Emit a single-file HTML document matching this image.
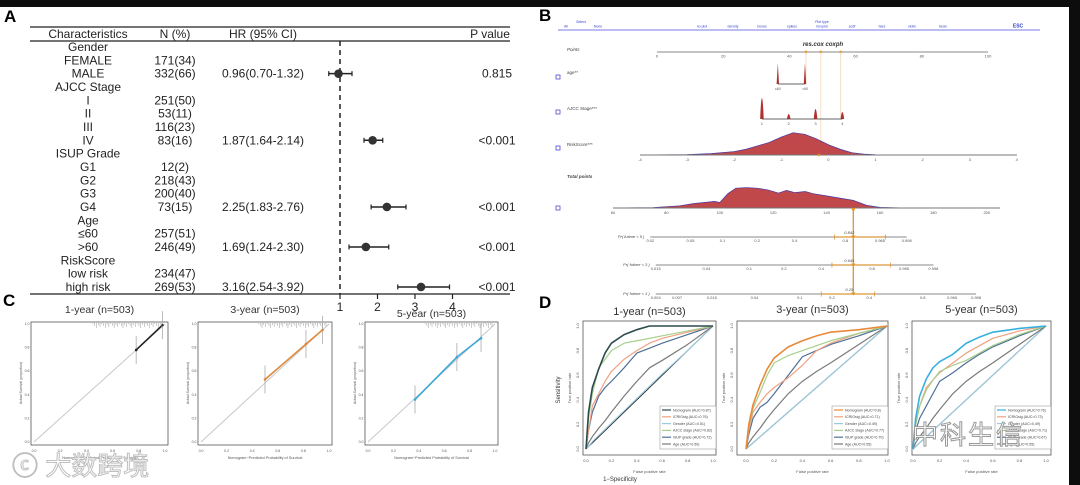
<!DOCTYPE html>
<html><head><meta charset="utf-8">
<style>
html,body{margin:0;padding:0;background:#0d0d0d;}
svg{display:block;font-family:"Liberation Sans","Noto Sans CJK SC",sans-serif;}
</style></head>
<body>
<svg id="fig" width="1080" height="485" viewBox="0 0 1080 485" xmlns="http://www.w3.org/2000/svg">
<rect x="0" y="0" width="1080" height="485" fill="#0d0d0d"/>
<rect x="0" y="7" width="1069" height="478" fill="#ffffff"/>
<text x="4" y="22" font-size="17" font-weight="bold">A</text>
<text x="539" y="21" font-size="17" font-weight="bold">B</text>
<text x="3" y="306" font-size="17" font-weight="bold">C</text>
<text x="539" y="308" font-size="17" font-weight="bold">D</text>
</svg>
<script>
// ---------- Forest plot data ----------
const forestLabels = ["Gender","FEMALE","MALE","AJCC Stage","I","II","III","IV","ISUP Grade","G1","G2","G3","G4","Age","≤60",">60","RiskScore","low risk","high risk"];
const forestN = ["","171(34)","332(66)","","251(50)","53(11)","116(23)","83(16)","","12(2)","218(43)","200(40)","73(15)","","257(51)","246(49)","","234(47)","269(53)"];
const forestHR = [null,null,0.96,null,null,null,null,1.87,null,null,null,null,2.25,null,null,1.69,null,null,3.16];
const forestLo = [null,null,0.70,null,null,null,null,1.64,null,null,null,null,1.83,null,null,1.24,null,null,2.54];
const forestHi = [null,null,1.32,null,null,null,null,2.14,null,null,null,null,2.76,null,null,2.30,null,null,3.92];
const forestP = ["","","0.815","","","","","<0.001","","","","","<0.001","","","<0.001","","","<0.001"];
const forestTicks = [1,2,3,4];

// ---------- Nomogram data ----------
const pointsTicks = [0,20,40,60,80,100];
const riskTicks = [-4,-3,-2,-1,0,1,2,3,4];
const riskDensX = [-4,-3,-2.5,-2,-1.75,-1.5,-1.25,-1,-0.75,-0.5,-0.25,0,0.25,0.5,0.75,1,2,3,4];
const riskDensH = [0,0.02,0.06,0.15,0.25,0.4,0.55,0.78,0.97,0.9,0.7,0.45,0.25,0.1,0.04,0.01,0,0,0];
const totalTicks = [60,80,100,120,140,160,180,200];
const totalDensX = [60,75,85,90,95,98,100,103,106,110,114,118,122,125,128,132,135,140,145,150,155,160,170,200];
const totalDensH = [0,0.02,0.1,0.2,0.26,0.3,0.25,0.65,0.9,0.93,0.9,0.82,0.68,0.8,0.7,0.75,0.65,0.55,0.45,0.35,0.12,0.03,0,0];
const ageLevels = ["≤60",">60"];
const agePoints = [36.5,44.7];
const ajccLevels = ["1","2","3","4"];
const ajccPoints = [31.7,39.8,47.9,56];
const pr5Labels = ["0.02","0.05","0.1","0.2","0.4","0.8","0.965","0.998"];
const pr5Total = [74,89,101,114,128,147,160,170];
const pr3Labels = ["0.015","0.04","0.1","0.2","0.4","0.8","0.965","0.998"];
const pr3Total = [76,95,111,124,138,157,169,180];
const pr1Labels = ["0.004","0.007","0.015","0.04","0.1","0.2","0.4","0.8","0.965","0.998"];
const pr1Total = [76,84,97,113,130,142,156,176,187,196];
const selTotal = 150;

// ---------- Calibration data ----------
const calTitles = ["1-year (n=503)","3-year (n=503)","5-year (n=503)"];
const cal1Pred = [0.78,0.98]; const cal1Obs = [0.78,0.99];
const cal3Pred = [0.5,0.82,0.95]; const cal3Obs = [0.53,0.83,0.95];
const cal5Pred = [0.37,0.7,0.89]; const cal5Obs = [0.36,0.72,0.88];

// ---------- ROC data ----------
const rocFpr = [0,0.02,0.05,0.1,0.15,0.2,0.3,0.4,0.5,0.6,0.8,1];
const roc1Nomogram = [0,0.3,0.5,0.65,0.78,0.86,0.93,0.97,1,1,1,1];
const roc1Icrig = [0,0.15,0.35,0.45,0.55,0.63,0.73,0.8,0.86,0.9,0.95,1];
const roc1Gender = [0,0.02,0.06,0.11,0.16,0.21,0.31,0.41,0.51,0.61,0.8,1];
const roc1Ajcc = [0,0.25,0.45,0.66,0.73,0.8,0.86,0.88,0.9,0.92,0.96,1];
const roc1Isup = [0,0.15,0.3,0.43,0.5,0.55,0.66,0.78,0.82,0.86,0.93,1];
const roc1Age = [0,0.05,0.1,0.17,0.23,0.3,0.43,0.55,0.66,0.72,0.85,1];
const roc3Nomogram = [0,0.2,0.36,0.52,0.65,0.74,0.83,0.88,0.92,0.95,0.97,1];
const roc3Icrig = [0,0.15,0.3,0.38,0.45,0.5,0.58,0.68,0.8,0.86,0.94,1];
const roc3Gender = [0,0.02,0.05,0.1,0.15,0.2,0.3,0.4,0.5,0.6,0.8,1];
const roc3Ajcc = [0,0.18,0.33,0.46,0.6,0.7,0.76,0.8,0.84,0.88,0.94,1];
const roc3Isup = [0,0.12,0.25,0.34,0.38,0.45,0.6,0.75,0.8,0.85,0.92,1];
const roc3Age = [0,0.05,0.1,0.17,0.25,0.32,0.45,0.55,0.63,0.7,0.85,1];
const roc5Nomogram = [0,0.25,0.43,0.57,0.66,0.71,0.77,0.86,0.91,0.95,0.98,1];
const roc5Icrig = [0,0.2,0.35,0.5,0.56,0.62,0.7,0.78,0.84,0.9,0.96,1];
const roc5Gender = [0,0.02,0.05,0.1,0.15,0.2,0.3,0.4,0.5,0.6,0.8,1];
const roc5Ajcc = [0,0.2,0.35,0.48,0.56,0.63,0.68,0.72,0.78,0.84,0.93,1];
const roc5Isup = [0,0.15,0.25,0.35,0.45,0.55,0.62,0.7,0.77,0.83,0.92,1];
const roc5Age = [0,0.05,0.1,0.17,0.25,0.32,0.45,0.55,0.63,0.7,0.85,1];
const rocLegend1 = ["Nomogram (AUC=0.87)","ICRIGsig (AUC=0.76)","Gender (AUC=0.51)","AJCC stage (AUC=0.82)","ISUP grade (AUC=0.72)","Age (AUC=0.59)"];
const rocLegend3 = ["Nomogram (AUC=0.8)","ICRIGsig (AUC=0.71)","Gender (AUC=0.49)","AJCC stage (AUC=0.77)","ISUP grade (AUC=0.70)","Age (AUC=0.55)"];
const rocLegend5 = ["Nomogram (AUC=0.76)","ICRIGsig (AUC=0.73)","Gender (AUC=0.49)","AJCC stage (AUC=0.71)","ISUP grade (AUC=0.67)","Age (AUC=0.55)"];

const NS = "http://www.w3.org/2000/svg";
const svg = document.getElementById("fig");
function add(parent, tag, attrs, name, text) {
  const el = document.createElementNS(NS, tag);
  for (const k in attrs) el.setAttribute(k, attrs[k]);
  
  
  if (text !== undefined) el.textContent = text;
  parent.appendChild(el);
  return el;
}

// ================= Panel A: forest =================
const gA = add(svg, "g", {}, "forest-plot-panel");
const fx = v => 340 + (v - 1) * 37.5;
const fy = i => 51 + i * 13.33;
add(gA, "line", {x1:30,y1:27,x2:510,y2:27,stroke:"#222","stroke-width":1.3}, "forest-top-rule");
add(gA, "line", {x1:30,y1:41,x2:510,y2:41,stroke:"#222","stroke-width":1.3}, "forest-header-rule");
add(gA, "line", {x1:30,y1:294,x2:510,y2:294,stroke:"#222","stroke-width":1.3}, "forest-bottom-rule");
const hdr = [["Characteristics",88],["N (%)",175],["HR (95% CI)",263],["P value",490]];
hdr.forEach(h => add(gA, "text", {x:h[1],y:38,"font-size":12,"text-anchor":"middle",fill:"#222"}, "forest-column-header", h[0]));
add(gA, "line", {x1:fx(1),y1:41,x2:fx(1),y2:294,stroke:"#111","stroke-width":1.4,"stroke-dasharray":"5,4"}, "forest-reference-line");
forestLabels.forEach((lab, i) => {
  add(gA, "text", {x:88,y:fy(i),"font-size":12,"text-anchor":"middle",fill:"#222"}, "forest-row-label", lab);
  if (forestN[i]) add(gA, "text", {x:175,y:fy(i),"font-size":12,"text-anchor":"middle",fill:"#222"}, "forest-n-percent", forestN[i]);
  if (forestHR[i] !== null) {
    add(gA, "text", {x:263,y:fy(i),"font-size":12,"text-anchor":"middle",fill:"#222"}, "forest-hr-text", forestHR[i].toFixed(2)+"("+forestLo[i].toFixed(2)+"-"+forestHi[i].toFixed(2)+")");
    const cy = fy(i) - 4;
    add(gA, "line", {x1:fx(forestLo[i]),y1:cy,x2:fx(forestHi[i]),y2:cy,stroke:"#222","stroke-width":1.5}, "forest-ci-line");
    add(gA, "line", {x1:fx(forestLo[i]),y1:cy-2.5,x2:fx(forestLo[i]),y2:cy+2.5,stroke:"#222","stroke-width":1.2}, "forest-ci-cap");
    add(gA, "line", {x1:fx(forestHi[i]),y1:cy-2.5,x2:fx(forestHi[i]),y2:cy+2.5,stroke:"#222","stroke-width":1.2}, "forest-ci-cap");
    add(gA, "circle", {cx:fx(forestHR[i]),cy:cy,r:4.3,fill:"#333"}, "forest-hr-point");
  }
  if (forestP[i]) add(gA, "text", {x:497,y:fy(i),"font-size":12,"text-anchor":"middle",fill:"#222"}, "forest-p-value", forestP[i]);
});
forestTicks.forEach(t => {
  add(gA, "line", {x1:fx(t),y1:294,x2:fx(t),y2:299,stroke:"#222","stroke-width":1.2}, "forest-x-tick");
  add(gA, "text", {x:fx(t),y:311,"font-size":12,"text-anchor":"middle",fill:"#222"}, "forest-x-tick-label", String(t));
});

// ================= Panel B: nomogram =================
const gB = add(svg, "g", {}, "nomogram-panel");
add(gB, "line", {x1:558,y1:30,x2:1040,y2:30,stroke:"#7b7be8","stroke-width":1}, "menu-underline");
const menu = [["All",566],["Select",581],["None",598],["no plot",702],["density",733],["boxes",762],["spikes",792],["Plot type",822],["boxplot",822],["ecdf",852],["bars",882],["violin",912],["bean",943],["ESC",1018]];
menu.forEach((m,i) => add(gB, "text", {x:m[1],y:(i==1||i==7)?23:27.5,"font-size":i==13?5:3.5,fill:"#3344cc","font-weight":i==13?"bold":"normal","text-anchor":"middle"}, "menu-option", m[0]));
const px = p => 657 + p * 3.31;
const tx = t => 613 + (t - 60) * 2.67;
const rx = r => 640 + (r + 4) * 47.1;
add(gB, "text", {x:823,y:46,"font-size":6,"font-weight":"bold","font-style":"italic","text-anchor":"middle",fill:"#333"}, "nomogram-title", "res.cox coxph");
const rowLabels = [["Points",567,51,true],["age**",567,74,false],["AJCC Stage***",567,110,false],["RiskScore***",567,146,false],["Total points",567,178,true]];
rowLabels.forEach(r => add(gB, "text", {x:r[1],y:r[2],"font-size":4.5,"font-style":r[3]?"italic":"normal","font-weight":r[0]=="Total points"?"bold":"normal",fill:"#444"}, "nomogram-row-label", r[0]));
[77,112,148,208].forEach(y => add(gB, "rect", {x:556,y:y-2,width:4,height:4,fill:"none",stroke:"#4b4bd0","stroke-width":0.8}, "row-checkbox"));
add(gB, "line", {x1:px(0),y1:52,x2:px(100),y2:52,stroke:"#888","stroke-width":1}, "points-axis");
pointsTicks.forEach(t => add(gB, "text", {x:px(t),y:57.5,"font-size":4,"text-anchor":"middle",fill:"#555"}, "points-tick-label", String(t)));
[45,49.5,55.5].forEach(p => add(gB, "circle", {cx:px(p),cy:52,r:1.4,fill:"#e69522"}, "points-marker"));
[45,49.5,55.5].forEach((p,i) => add(gB, "line", {x1:px(p),y1:52,x2:px(p),y2:[86,155,119][i],stroke:"#f0d9b8","stroke-width":0.8}, "points-guide-line"));
add(gB, "line", {x1:px(agePoints[0]),y1:84,x2:px(agePoints[1]),y2:84,stroke:"#666","stroke-width":0.9}, "age-axis");
agePoints.forEach((p,i) => {
  add(gB, "path", {d:`M${px(p)-1.2},84 L${px(p)},63 L${px(p)+1.2},84 Z`,fill:"#b03030"}, "age-spike");
  add(gB, "text", {x:px(p),y:90,"font-size":3.5,"text-anchor":"middle",fill:"#555"}, "age-level-label", ageLevels[i]);
});
add(gB, "line", {x1:px(ajccPoints[0]),y1:119,x2:px(ajccPoints[3]),y2:119,stroke:"#666","stroke-width":0.9}, "ajcc-axis");
const ajccH = [21,5,10,7];
ajccPoints.forEach((p,i) => {
  add(gB, "path", {d:`M${px(p)-1.8},119 Q${px(p)},${119-ajccH[i]*2} ${px(p)+1.8},119 Z`,fill:"#b03030"}, "ajcc-spike");
  add(gB, "text", {x:px(p),y:125,"font-size":4,"text-anchor":"middle",fill:"#555"}, "ajcc-level-label", ajccLevels[i]);
});
let d = `M${rx(riskDensX[0])},155`;
riskDensX.forEach((x,i) => d += ` L${rx(x)},${155 - riskDensH[i]*23}`);
d += ` L${rx(riskDensX[riskDensX.length-1])},155 Z`;
add(gB, "path", {d:d,fill:"#c0474a",stroke:"#4a3aa0","stroke-width":0.7}, "riskscore-density");
add(gB, "line", {x1:rx(-4),y1:155,x2:rx(4),y2:155,stroke:"#777","stroke-width":0.9}, "riskscore-axis");
riskTicks.forEach(t => add(gB, "text", {x:rx(t),y:161,"font-size":4,"text-anchor":"middle",fill:"#555"}, "riskscore-tick-label", String(t)));
add(gB, "circle", {cx:rx(-0.2),cy:155,r:1.3,fill:"#e69522"}, "riskscore-marker");
d = `M${tx(totalDensX[0])},208`;
totalDensX.forEach((x,i) => d += ` L${tx(x)},${208 - totalDensH[i]*22}`);
d += ` L${tx(totalDensX[totalDensX.length-1])},208 Z`;
add(gB, "path", {d:d,fill:"#c0474a",stroke:"#4a3aa0","stroke-width":0.7}, "total-points-density");
add(gB, "line", {x1:tx(60),y1:208,x2:tx(205),y2:208,stroke:"#777","stroke-width":0.9}, "total-points-axis");
totalTicks.forEach(t => add(gB, "text", {x:tx(t),y:214,"font-size":4,"text-anchor":"middle",fill:"#555"}, "total-points-tick-label", String(t)));
add(gB, "line", {x1:tx(selTotal),y1:208,x2:tx(selTotal),y2:295,stroke:"#d9963a","stroke-width":1.3}, "selected-total-line");
add(gB, "path", {d:`M${tx(selTotal)-2.5},208 L${tx(selTotal)+2.5},208 L${tx(selTotal)},212 Z`,fill:"#e69522"}, "selected-total-marker");
function prAxis(labels, totals, y, lbl, val, lo, hi) {
  add(gB, "text", {x:tx(totals[0])-6,y:y+1,"font-size":4,"font-style":"italic","text-anchor":"end",fill:"#444"}, "probability-row-label", lbl);
  add(gB, "line", {x1:tx(totals[0]),y1:y,x2:tx(totals[totals.length-1]),y2:y,stroke:"#888","stroke-width":0.9}, "probability-axis");
  totals.forEach((t,i) => add(gB, "text", {x:tx(t),y:y+5,"font-size":4,"text-anchor":"middle",fill:"#555"}, "probability-tick-label", labels[i]));
  add(gB, "line", {x1:tx(lo),y1:y,x2:tx(hi),y2:y,stroke:"#d9963a","stroke-width":1.3}, "probability-ci");
  add(gB, "line", {x1:tx(lo),y1:y-2.5,x2:tx(lo),y2:y+2.5,stroke:"#d9963a","stroke-width":0.8}, "probability-ci-cap");
  add(gB, "line", {x1:tx(hi),y1:y-2.5,x2:tx(hi),y2:y+2.5,stroke:"#d9963a","stroke-width":0.8}, "probability-ci-cap");
  add(gB, "path", {d:`M${tx(selTotal)-2.2},${y-1.5} L${tx(selTotal)+2.2},${y-1.5} L${tx(selTotal)},${y+1.5} Z`,fill:"#e69522"}, "probability-marker");
  add(gB, "text", {x:tx(selTotal)-4,y:y-3,"font-size":4,"font-style":"italic","text-anchor":"middle",fill:"#444"}, "probability-value", val);
}
prAxis(pr5Labels, pr5Total, 237, "Pr( futime < 5 )", "0.842", 143, 162);
prAxis(pr3Labels, pr3Total, 265, "Pr( futime < 3 )", "0.645", 142, 164);
prAxis(pr1Labels, pr1Total, 294, "Pr( futime < 1 )", "0.29", 138, 158);

// ================= Panel C: calibration =================
const calBoxes = [[31,168],[198,332],[365,498]];
const calColors = ["#222","#e0893a","#3aa7d8"];
const calPred = [cal1Pred, cal3Pred, cal5Pred];
const calObs = [cal1Obs, cal3Obs, cal5Obs];
calBoxes.forEach((b,k) => {
  const g = add(svg, "g", {}, "calibration-plot");
  const cxs = v => b[0] + 3 + v * (b[1]-b[0]-6);
  const cys = v => 442 - v * 118;
  add(g, "text", {x:(b[0]+b[1])/2,y:k==2?317:313,"font-size":10.5,"text-anchor":"middle",fill:"#333"}, "calibration-title", calTitles[k]);
  add(g, "rect", {x:b[0],y:322,width:b[1]-b[0],height:123,fill:"none",stroke:"#555","stroke-width":0.8}, "calibration-frame");
  add(g, "line", {x1:cxs(0),y1:cys(0),x2:cxs(1),y2:cys(1),stroke:"#c8c8c8","stroke-width":1}, "calibration-ideal-line");
  for (let t=0;t<=5;t++) {
    add(g, "text", {x:cxs(t/5),y:452,"font-size":3.5,"text-anchor":"middle",fill:"#555"}, "calibration-x-tick-label", (t/5).toFixed(1));
    add(g, "text", {x:b[0]-4,y:cys(t/5)+1,"font-size":3.5,"text-anchor":"middle",fill:"#555"}, "calibration-y-tick-label", (t/5).toFixed(1));
  }
  add(g, "text", {x:b[0]-9,y:383,"font-size":3.5,"text-anchor":"middle",fill:"#555",transform:`rotate(-90 ${b[0]-9} 383)`}, "calibration-y-axis-title", "Actual Survival (proportion)");
  add(g, "text", {x:(b[0]+b[1])/2,y:459,"font-size":3.8,"text-anchor":"middle",fill:"#555"}, "calibration-x-axis-title", "Nomogram−Predicted Probability of Survival");
  let pd = "";
  calPred[k].forEach((p,i) => pd += (i?" L":"M") + cxs(p) + "," + cys(calObs[k][i]));
  add(g, "path", {d:pd,fill:"none",stroke:calColors[k],"stroke-width":1.6}, "calibration-curve");
  calPred[k].forEach((p,i) => {
    add(g, "line", {x1:cxs(p),y1:cys(calObs[k][i])-14,x2:cxs(p),y2:cys(calObs[k][i])+14,stroke:"#aaa","stroke-width":0.8}, "calibration-error-bar");
    add(g, "circle", {cx:cxs(p),cy:cys(calObs[k][i]),r:1.3,fill:calColors[k]}, "calibration-point");
  });
  for (let j=0;j<40;j++) add(g, "line", {x1:cxs(0.45+j*0.0135),y1:323,x2:cxs(0.45+j*0.0135),y2:323+((j*7)%5)+1,stroke:"#999","stroke-width":0.5}, "calibration-rug");
});
add(svg, "text", {x:12,y:475,"font-size":26,fill:"#ffffff",stroke:"#bfbfbf","stroke-width":1}, "watermark-left", "ⓒ 大数跨境");

// ================= Panel D: ROC =================
const rocBoxes = [[583,716,586,713],[737,888,746,887],[912,1051,913,1046]];
const rocTitles = ["1-year (n=503)","3-year (n=503)","5-year (n=503)"];
const rocData = [
  [roc1Nomogram,roc1Icrig,roc1Gender,roc1Ajcc,roc1Isup,roc1Age],
  [roc3Nomogram,roc3Icrig,roc3Gender,roc3Ajcc,roc3Isup,roc3Age],
  [roc5Nomogram,roc5Icrig,roc5Gender,roc5Ajcc,roc5Isup,roc5Age]];
const rocLegends = [rocLegend1, rocLegend3, rocLegend5];
const nomoColors = ["#2d4a4f","#e8893a","#37b0e0"];
const otherColors = ["#f0a080","#9ccbe0","#a5cf8a","#4f6f96","#7a7a7a"];
rocBoxes.forEach((b,k) => {
  const g = add(svg, "g", {}, "roc-plot");
  const X = v => b[2] + v * (b[3]-b[2]);
  const Y = v => 449 - v * 123;
  add(g, "text", {x:(b[0]+b[1])/2,y:k==0?315:313,"font-size":11,"text-anchor":"middle",fill:"#333"}, "roc-title", rocTitles[k]);
  add(g, "rect", {x:b[0],y:321,width:b[1]-b[0],height:134,fill:"none",stroke:"#555","stroke-width":0.8}, "roc-frame");
  for (let t=0;t<=5;t++) {
    add(g, "text", {x:X(t/5),y:462,"font-size":4,"text-anchor":"middle",fill:"#555"}, "roc-x-tick-label", (t/5).toFixed(1));
    add(g, "text", {x:b[0]-5,y:Y(t/5)+1,"font-size":4,"text-anchor":"middle",fill:"#555",transform:`rotate(-90 ${b[0]-5} ${Y(t/5)})`}, "roc-y-tick-label", (t/5).toFixed(1));
  }
  add(g, "text", {x:(b[0]+b[1])/2,y:473,"font-size":4,"text-anchor":"middle",fill:"#555"}, "roc-x-axis-title", "False positive rate");
  add(g, "text", {x:b[0]-12,y:388,"font-size":4,"text-anchor":"middle",fill:"#555",transform:`rotate(-90 ${b[0]-12} 388)`}, "roc-y-axis-title", "True positive rate");
  add(g, "line", {x1:X(0),y1:Y(0),x2:X(1),y2:Y(1),stroke:"#222","stroke-width":1}, "roc-diagonal");
  const series = rocData[k];
  const order = [2,5,4,1,3,0];
  order.forEach(s => {
    let pd = "";
    rocFpr.forEach((f,i) => {
      pd += (i==0 ? "M" : " L") + X(f) + "," + Y(series[s][i]);
    });
    const col = s==0 ? nomoColors[k] : otherColors[s-1];
    add(g, "path", {d:pd,fill:"none",stroke:col,"stroke-width":s==0?1.6:1.2,"stroke-linejoin":"round"}, "roc-curve");
  });
  const lx = b[1]-42, ly = 410;
  add(g, "rect", {x:lx-14,y:ly-4,width:56,height:43,fill:"#fff",stroke:"#888","stroke-width":0.5}, "roc-legend-box");
  rocLegends[k].forEach((t,i) => {
    const col = i==0 ? nomoColors[k] : otherColors[i-1];
    add(g, "line", {x1:lx-12,y1:ly+i*6.8,x2:lx-3,y2:ly+i*6.8,stroke:col,"stroke-width":1.2}, "roc-legend-swatch");
    add(g, "text", {x:lx-1,y:ly+1.3+i*6.8,"font-size":3.6,fill:"#444"}, "roc-legend-entry", t);
  });
});
add(svg, "text", {x:560,y:390,"font-size":6,"text-anchor":"middle",fill:"#333",transform:"rotate(-90 560 390)"}, "roc-sensitivity-label", "Sensitivity");
add(svg, "text", {x:620,y:481,"font-size":6,"text-anchor":"middle",fill:"#333"}, "roc-specificity-label", "1−Specificity");
add(svg, "text", {x:912,y:444,"font-size":26,fill:"#ffffff",stroke:"#9a9a9a","stroke-width":1,"letter-spacing":2}, "watermark-right", "中科生信");
</script>
</body></html>
